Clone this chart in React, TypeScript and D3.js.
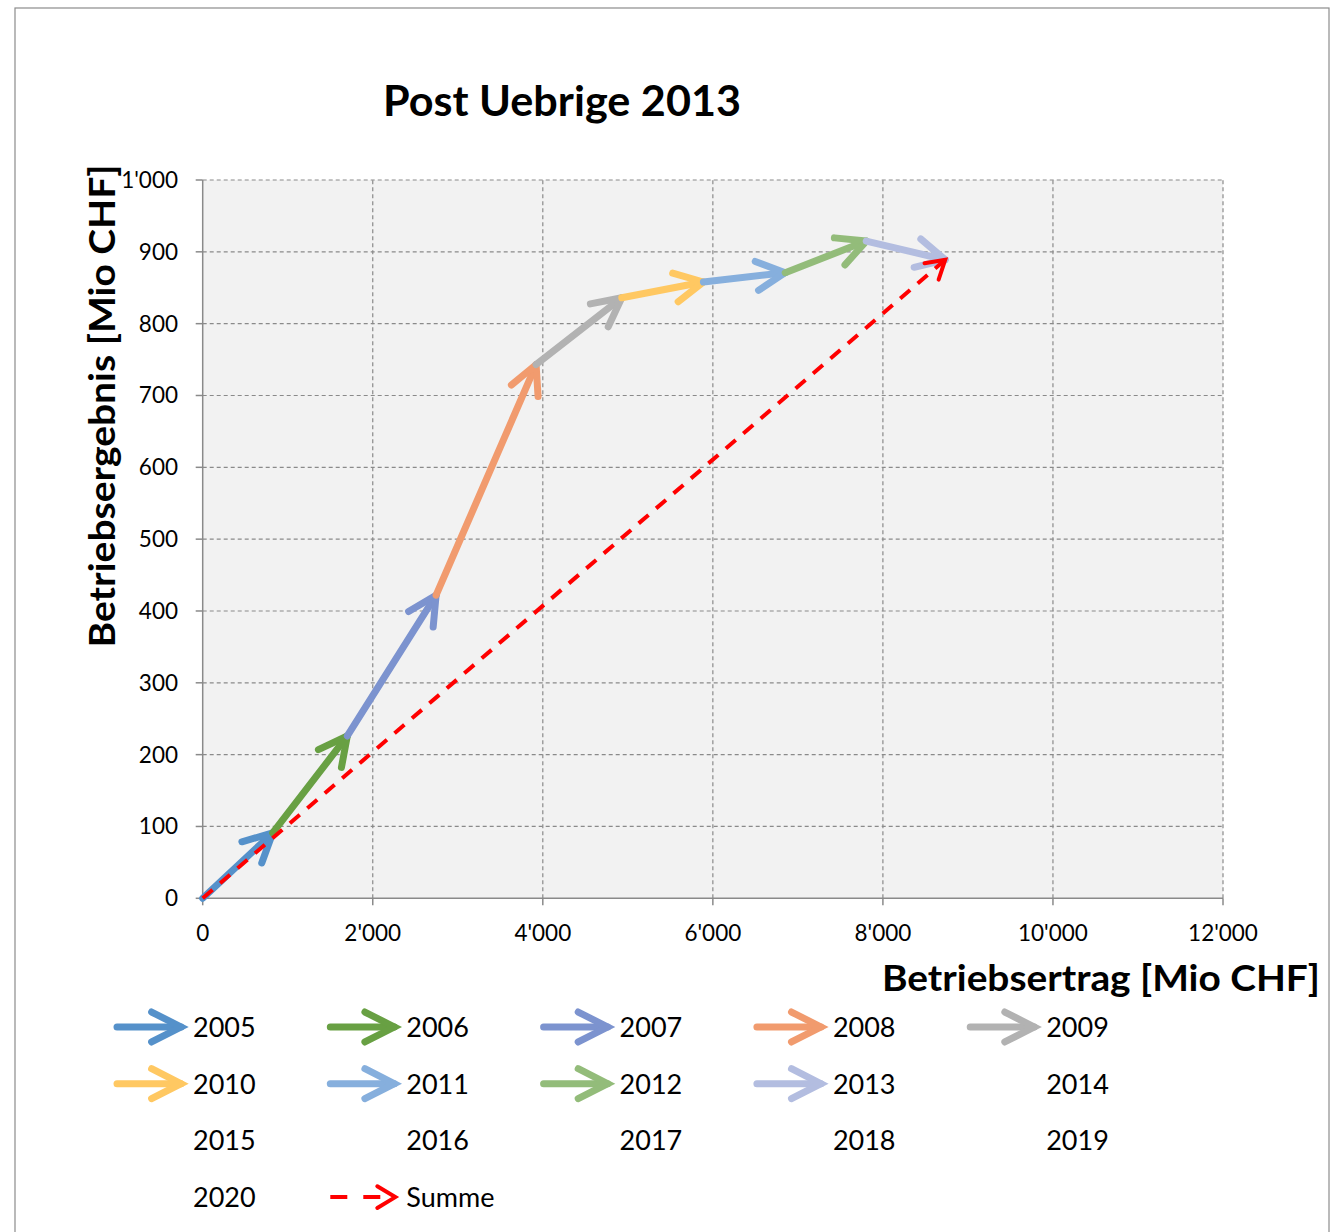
import React from 'react';
import * as d3 from 'd3';

const years = ['2005','2006','2007','2008','2009','2010','2011','2012','2013','2014','2015','2016','2017','2018','2019','2020'];
// cumulative path points (start at origin), one segment per year with data
const ertragPts = [0, 823, 1701, 2745, 3921, 4929, 5889, 6851, 7804, 8733];
const ergebnisPts = [0, 91, 226, 422, 743, 836, 858, 871, 915, 889];
const yearColors = ['#5591CA','#68A043','#7C93CF','#F19B6E','#B2B2B2','#FFC862','#86AFDD','#93BC7A','#B3BDE0'];
const summeColor = '#FF0000';
const xTicks = [0, 2000, 4000, 6000, 8000, 10000, 12000];
const yTicks = [0, 100, 200, 300, 400, 500, 600, 700, 800, 900, 1000];

const fmt = (v: number) => {
  const s = String(v);
  return s.length > 3 ? s.slice(0, s.length - 3) + "'" + s.slice(s.length - 3) : s;
};

const FONT = 'Lato, "Open Sans", sans-serif';

function chevron(x1: number, y1: number, x2: number, y2: number, len: number, ang: number) {
  const a = Math.atan2(y1 - y2, x1 - x2);
  const r = (ang * Math.PI) / 180;
  const p1 = [x2 + len * Math.cos(a + r), y2 + len * Math.sin(a + r)];
  const p2 = [x2 + len * Math.cos(a - r), y2 + len * Math.sin(a - r)];
  return `M${p1[0]},${p1[1]}L${x2},${y2}L${p2[0]},${p2[1]}`;
}

export default function App() {
  const W = 1331, H = 1232;
  const x = d3.scaleLinear().domain([0, 12000]).range([202.7, 1223]);
  const y = d3.scaleLinear().domain([0, 1000]).range([898.3, 180]);

  const segs = yearColors.map((c, i) => ({
    x1: x(ertragPts[i]), y1: y(ergebnisPts[i]),
    x2: x(ertragPts[i + 1]), y2: y(ergebnisPts[i + 1]), color: c,
  }));
  const n = ertragPts.length - 1;
  const sum = { x1: x(0), y1: y(0), x2: x(ertragPts[n]), y2: y(ergebnisPts[n]) };

  const legendItems = [...years.map((yr, i) => ({ label: yr, color: yearColors[i] || null, dashed: false })),
    { label: 'Summe', color: summeColor, dashed: true }];

  return (
    <svg width={W} height={H} style={{ position: 'absolute', left: 0, top: 0, background: '#fff' }}>
      <rect x={15} y={8} width={1314} height={1240} fill="#fff" stroke="#8c8c8c" strokeWidth={1.2} />
      <text x={562} y={116} textAnchor="middle" fontFamily={FONT} fontWeight="bold" fontSize={42} textLength={358} lengthAdjust="spacingAndGlyphs">Post Uebrige 2013</text>
      <rect x={x(0)} y={y(1000)} width={x(12000) - x(0)} height={y(0) - y(1000)} fill="#F2F2F2" />
      {xTicks.filter(t => t > 0).map(t => (
        <line key={'gx' + t} x1={x(t)} x2={x(t)} y1={y(0)} y2={y(1000)} stroke="#8a8a8a" strokeWidth={1.2} strokeDasharray="4,3" />
      ))}
      {yTicks.filter(t => t > 0).map(t => (
        <line key={'gy' + t} x1={x(0)} x2={x(12000)} y1={y(t)} y2={y(t)} stroke="#8a8a8a" strokeWidth={1.2} strokeDasharray="4,3" />
      ))}
      <line x1={x(0)} x2={x(0)} y1={y(0)} y2={y(1000)} stroke="#8a8a8a" strokeWidth={1.5} />
      <line x1={x(0)} x2={x(12000)} y1={y(0)} y2={y(0)} stroke="#8a8a8a" strokeWidth={1.5} />
      {yTicks.map(t => (
        <g key={'yt' + t}>
          <line x1={x(0) - 7} x2={x(0)} y1={y(t)} y2={y(t)} stroke="#8a8a8a" strokeWidth={1.5} />
          <text x={178} y={y(t) + 8} textAnchor="end" fontFamily={FONT} fontSize={22.5}>{fmt(t)}</text>
        </g>
      ))}
      {xTicks.map(t => (
        <g key={'xt' + t}>
          <line x1={x(t)} x2={x(t)} y1={y(0)} y2={y(0) + 7} stroke="#8a8a8a" strokeWidth={1.5} />
          <text x={x(t)} y={941} textAnchor="middle" fontFamily={FONT} fontSize={22.5}>{fmt(t)}</text>
        </g>
      ))}
      <text x={882} y={991} fontFamily={FONT} fontWeight="bold" fontSize={36} textLength={438} lengthAdjust="spacingAndGlyphs">Betriebsertrag [Mio CHF]</text>
      <text transform="translate(115,406) rotate(-90)" textAnchor="middle" fontFamily={FONT} fontWeight="bold" fontSize={36} textLength={483} lengthAdjust="spacingAndGlyphs">Betriebsergebnis [Mio CHF]</text>

      {segs.map((s, i) => (
        <g key={'seg' + i} stroke={s.color} strokeWidth={7} strokeLinecap="round" strokeLinejoin="round" fill="none">
          <line x1={s.x1} y1={s.y1} x2={s.x2} y2={s.y2} />
          <path d={chevron(s.x1, s.y1, s.x2, s.y2, 32, 27)} />
        </g>
      ))}
      <g stroke={summeColor} strokeWidth={4} fill="none">
        <line x1={sum.x1} y1={sum.y1} x2={sum.x2} y2={sum.y2} strokeDasharray="13,10" />
        <path d={chevron(sum.x1, sum.y1, sum.x2, sum.y2, 21, 31)} strokeLinecap="round" />
      </g>

      {legendItems.map((it, i) => {
        const col = i % 5, row = Math.floor(i / 5);
        const bx = 115 + col * 213.3, cy = 1027 + row * 56.7;
        return (
          <g key={'lg' + i}>
            {it.color && !it.dashed && (
              <g stroke={it.color} strokeWidth={7} strokeLinecap="round" fill="none">
                <line x1={bx + 2} y1={cy} x2={bx + 66} y2={cy} />
                <path d={chevron(bx, cy, bx + 66, cy, 33, 27)} />
              </g>
            )}
            {it.dashed && (
              <g stroke={it.color!} strokeWidth={4} fill="none">
                <line x1={bx + 2} y1={cy} x2={bx + 67} y2={cy} strokeDasharray="17,16" />
                <path d={chevron(bx, cy, bx + 67, cy, 21, 31)} strokeLinecap="round" />
              </g>
            )}
            <text x={bx + 78} y={cy + 10} fontFamily={FONT} fontSize={27}>{it.label}</text>
          </g>
        );
      })}
    </svg>
  );
}
